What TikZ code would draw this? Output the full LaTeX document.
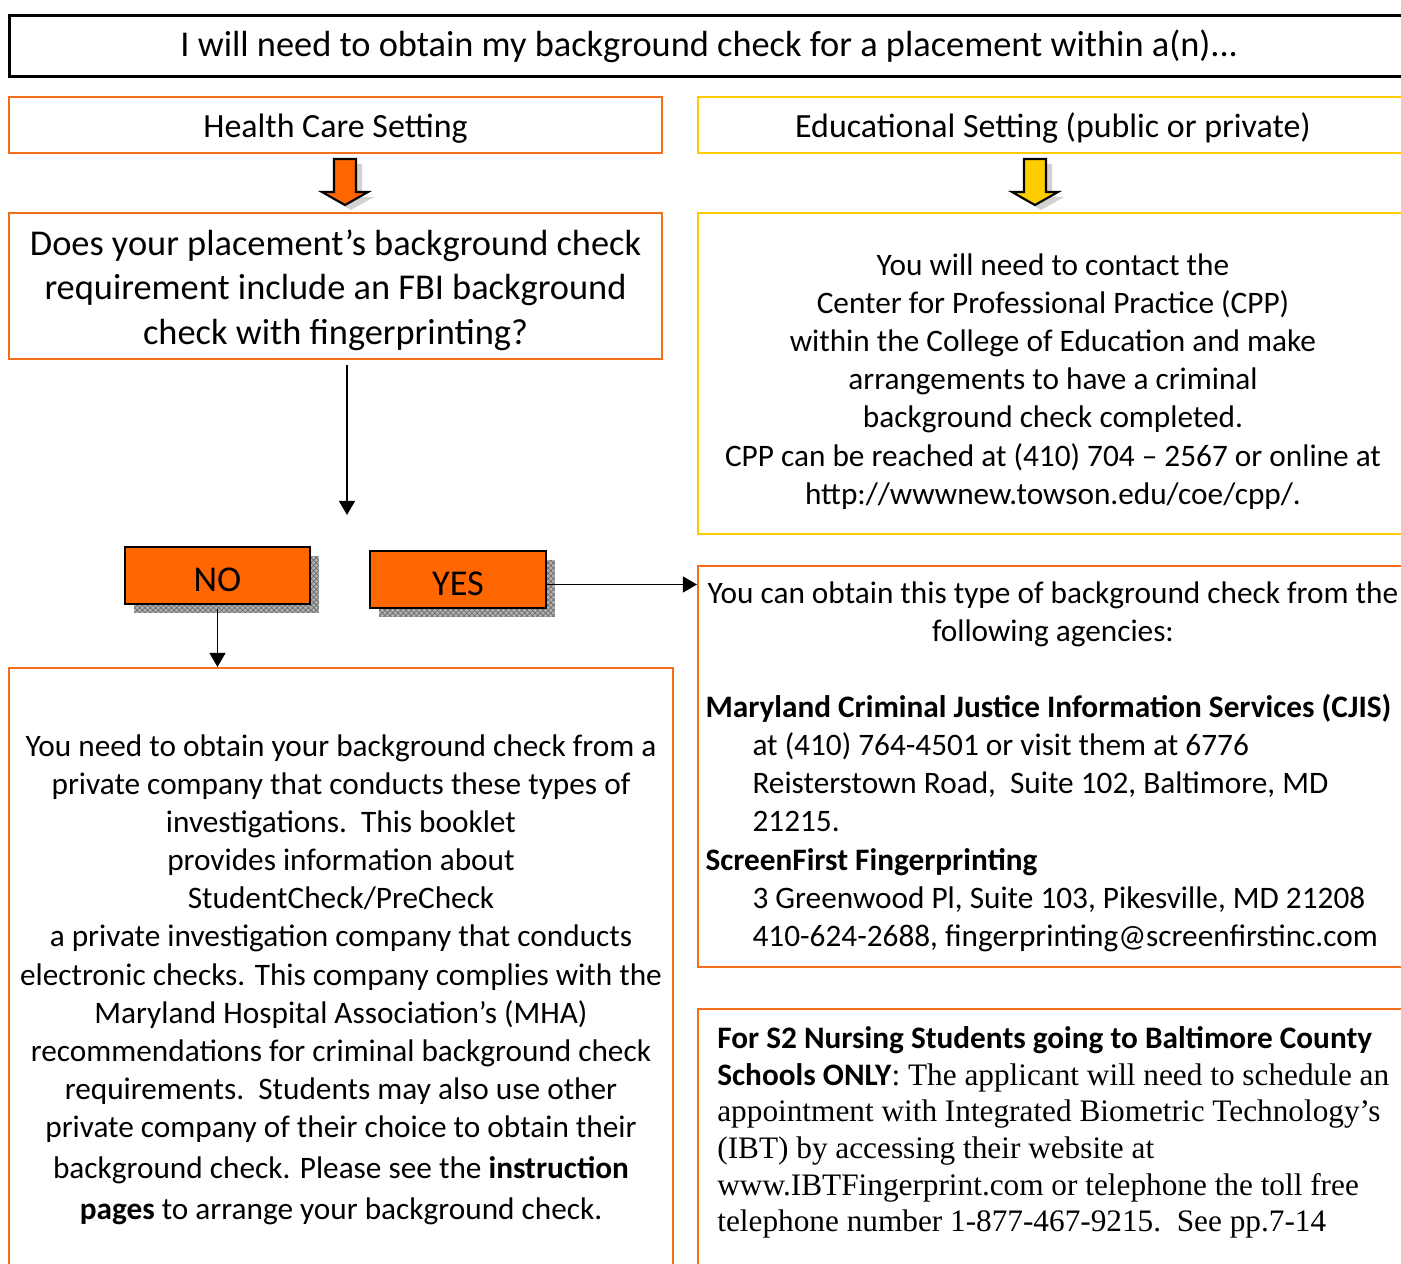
\documentclass[tikz,border=0pt]{standalone}
\usepackage{fontspec}
\setmainfont{Carlito}
\newfontfamily\timesfont{Liberation Serif}
\usetikzlibrary{arrows.meta,calc,patterns}

\definecolor{lineorange}{RGB}{245,110,25}
\definecolor{lineyellow}{RGB}{255,204,0}
\definecolor{fillorange}{RGB}{255,102,0}

\tikzset{
  body/.style={font=\fontsize{17.8}{21.7}\selectfont},
  label/.style={font=\fontsize{19.3}{23.5}\selectfont},
  big/.style={font=\fontsize{20.7}{25.2}\selectfont},
  titlebox/.style={draw=black, line width=1.6pt, inner sep=0pt, align=center},
  obox/.style={draw=lineorange, line width=1.2pt, inner sep=0pt, align=center},
  ybox/.style={draw=lineyellow, line width=1.2pt, inner sep=0pt, align=center},
  choice/.style={draw=black, line width=1.6pt, fill=fillorange, inner sep=0pt,
    text height=18pt, text depth=0pt,
    preaction={fill=gray!60, transform canvas={xshift=0.18cm,yshift=-0.18cm}},
    preaction={pattern=crosshatch, pattern color=gray!85!black, transform canvas={xshift=0.18cm,yshift=-0.18cm}}},
  arr/.style={-{Triangle[length=8pt,width=9pt]}, line width=1.1pt},
  pics/downarrow/.style={code={
    \fill[gray!35, shift={(6,5)}] (-11,0) -- (11,0) -- (11,33) -- (23,33) -- (0,46) -- (-23,33) -- (-11,33) -- cycle;
    \filldraw[fill=#1, draw=black, line width=1.2pt] (-11,0) -- (11,0) -- (11,33) -- (23,33) -- (0,46) -- (-23,33) -- (-11,33) -- cycle;
  }}
}

\begin{document}
\begin{tikzpicture}[x=0.02cm,y=-0.02cm]
  \useasboundingbox (0,0) rectangle (1401,1264);
  \clip (0,0) rectangle (1401,1264);

  % top row
  \node[titlebox, anchor=north west, minimum width=28cm, minimum height=1.22cm, big] (title) at (8,14)
    {I will need to obtain my background check for a placement within a(n)...};
  \node[obox, anchor=north west, minimum width=13.06cm, minimum height=1.12cm, label, text height=16.5pt, text depth=2pt] (health) at (8,96)
    {Health Care Setting};
  \node[ybox, anchor=north west, minimum width=14.2cm, minimum height=1.12cm, label, text height=16.5pt, text depth=2pt] (edu) at (697,96)
    {Educational Setting (public or private)};

  \pic (harrow) at (345,159) {downarrow=fillorange};
  \pic (earrow) at (1035,159) {downarrow=lineyellow};

  % second row
  \node[obox, anchor=north west, minimum width=13.06cm, minimum height=2.92cm] (question) at (8,212) {};
  \node[big, align=center] (qtext) at ($(question.center)+(0,4)$)
    {Does your placement’s background check\\ requirement include an FBI background\\ check with fingerprinting?};
  \node[ybox, anchor=north west, minimum width=14.2cm, minimum height=6.42cm] (cpp) at (697,212) {};
  \node[body, align=center] (cpptext) at ($(cpp.center)+(0,8)$)
    {You will need to contact the\\ Center for Professional Practice (CPP)\\ within the College of Education and make\\
     arrangements to have a criminal\\ background check completed.\\
     CPP can be reached at (410) 704 – 2567 or online at\\ http://wwwnew.towson.edu/coe/cpp/.};

  % answers
  \node[choice, minimum width=3.7cm, minimum height=1.14cm, big] (no) at (217.5,575.5) {NO};
  \node[choice, minimum width=3.52cm, minimum height=1.14cm, big] (yes) at (458,579.5) {YES};
  \coordinate (qend) at (347,515);

  \node[obox, anchor=north west, minimum width=13.28cm, minimum height=12.46cm, body] (private) at (8,667)
    {You need to obtain your background check from a\\ private company that conducts these types of\\
     investigations.\ \ This booklet\\ provides information about\\ StudentCheck/PreCheck\\
     a private investigation company that conducts\\ electronic checks. This company complies with the\\
     Maryland Hospital Association’s (MHA)\\ recommendations for criminal background check\\
     requirements.\ \ Students may also use other\\ private company of their choice to obtain their\\[1.5pt]
     background check. Please see the \textbf{instruction}\\[1.5pt] \textbf{pages} to arrange your background check.};

  \node[obox, anchor=north west, minimum width=14.2cm, minimum height=8.02cm, body, align=left] (agencies) at (697,565)
    {\makebox[13.9cm]{You can obtain this type of background check from the}\\
     \makebox[13.9cm]{following agencies:}\\[21.7pt]
     \textbf{Maryland Criminal Justice Information Services (CJIS)}\\
     \hspace*{0.94cm}at (410) 764-4501 or visit them at 6776\\
     \hspace*{0.94cm}Reisterstown Road,\ \ Suite 102, Baltimore, MD\\
     \hspace*{0.94cm}21215.\\
     \textbf{ScreenFirst Fingerprinting}\\
     \hspace*{0.94cm}3 Greenwood Pl, Suite 103, Pikesville, MD 21208\\
     \hspace*{0.94cm}410-624-2688, fingerprinting@screenfirstinc.com};

  \node[obox, anchor=north west, minimum width=14.2cm, minimum height=5.6cm] (s2) at (697,1008) {};
  \node[anchor=north west, align=left, inner sep=0pt, font=\fontsize{17.8}{20.9}\selectfont] (s2text) at (717,1026)
    {\textbf{For S2 Nursing Students going to Baltimore County}\\
     \textbf{Schools ONLY}{\timesfont: The applicant will need to schedule an}\\
     {\timesfont appointment with Integrated Biometric Technology’s}\\
     {\timesfont (IBT) by accessing their website at}\\
     {\timesfont www.IBTFingerprint.com or telephone the toll free}\\
     {\timesfont telephone number 1-877-467-9215.\ \ See pp.7-14}};

  % connectors
  \draw[arr] ($(question.south -| qend)+(0,5)$) -- (qend);
  \draw[arr] ($(yes.east)+(0,5)$) -- ($(yes.east -| agencies.west)+(0,5)$);
  \draw[arr] ($(no.south)+(0,4)$) -- (no.south |- private.north);
\end{tikzpicture}
\end{document}
